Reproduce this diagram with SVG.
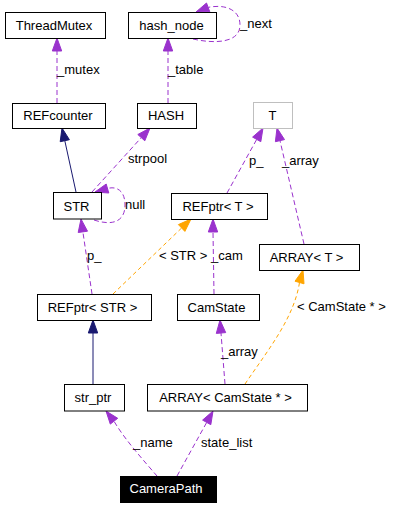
<svg xmlns="http://www.w3.org/2000/svg" width="404" height="507" viewBox="0 0 404 507">
<style>
  text { font-family: "Liberation Sans", Arial, sans-serif; font-size: 13px; fill: #000; }
  .n rect { fill: #fff; stroke: #000; stroke-width: 1; }
  .n text { text-anchor: middle; }
  .ghost rect { stroke: #bfbfbf; }
  .cur rect { fill: #000; }
  .cur text { fill: #fff; }
  .e { fill: none; stroke-width: 1; }
  .p { stroke: #9a32cd; stroke-dasharray: 5,3; }
  .o { stroke: #ffa500; stroke-dasharray: 4,3; }
  .b { stroke: #191970; }
  .pa { fill: #9a32cd; stroke: #9a32cd; }
  .oa { fill: #ffa500; stroke: #ffa500; }
  .ba { fill: #191970; stroke: #191970; }
</style>
<rect width="404" height="507" fill="#fff"/>
<g id="connectors">
  <path class="e p" d="M57,103 L57,51"/>
  <polygon class="pa" points="57,38 52.3,51 61.7,51"/>
  <text x="57" y="74">_mutex</text>

  <path class="e p" d="M168,103 L168,51"/>
  <polygon class="pa" points="168,38 163.3,51 172.7,51"/>
  <text x="168" y="74">_table</text>

  <path class="e p" d="M193,39 C215,44 240,43 240,25 C240,9 224,4 208.2,7.4"/>
  <polygon class="pa" points="196,12 209.8,11.8 206.5,3"/>
  <text x="240" y="28">_next</text>

  <path class="e b" d="M76,192 L64.8,140.7"/>
  <polygon class="ba" points="62,128 69.4,139.7 60.2,141.7"/>

  <path class="e p" d="M92,192 L141.3,137.6"/>
  <polygon class="pa" points="150,128 144.8,140.8 137.8,134.5"/>
  <text x="128" y="163">strpool</text>

  <path class="e p" d="M94,220 C112,226 125,222 125,205 C125,190 116,186 107.5,188.5"/>
  <polygon class="pa" points="95,192 108.8,193 106.2,184"/>
  <text x="125" y="209">null</text>

  <path class="e p" d="M227,193 L256.7,139.4"/>
  <polygon class="pa" points="263,128 260.8,141.7 252.6,137.1"/>
  <text x="249" y="165">p_</text>

  <path class="e p" d="M304,244 L280,140.7"/>
  <polygon class="pa" points="277,128 284.5,139.6 275.4,141.7"/>
  <text x="282" y="165">_array</text>

  <path class="e p" d="M92,294 L82.9,231.9"/>
  <polygon class="pa" points="81,219 87.5,231.2 78.2,232.5"/>
  <text x="87" y="260">p_</text>

  <path class="e o" d="M113,294 L181.6,228"/>
  <polygon class="oa" points="191,219 184.9,231.4 178.4,224.6"/>
  <text x="159" y="260">&lt; STR &gt;</text>

  <path class="e p" d="M214,294 L213,232"/>
  <polygon class="pa" points="213,219 208.3,232 217.7,232"/>
  <text x="211" y="260">_cam</text>

  <path class="e o" d="M245,384 C268,350 294,318 299.5,282.5"/>
  <polygon class="oa" points="303,270 304,283.8 295,281.2"/>
  <text x="297" y="311">&lt; CamState * &gt;</text>

  <path class="e b" d="M93,384 L93,333"/>
  <polygon class="ba" points="93,320 88.3,333 97.7,333"/>

  <path class="e p" d="M225,384 L221,333"/>
  <polygon class="pa" points="220,320 225.7,332.6 216.3,333.4"/>
  <text x="221" y="356">_array</text>

  <path class="e p" d="M157,476 C145,462 125,440 114,421.2"/>
  <polygon class="pa" points="106,411 117.7,418.3 110.3,424.1"/>
  <text x="133" y="447">_name</text>

  <path class="e p" d="M177,476 L206.7,422.4"/>
  <polygon class="pa" points="213,411 210.8,424.7 202.6,420.1"/>
  <text x="201" y="447">state_list</text>
</g>
<g id="ThreadMutex" class="n"><rect x="5.5" y="12.5" width="100" height="26"/><text x="54" y="29.5">ThreadMutex</text></g>
<g id="hash_node" class="n"><rect x="128.5" y="12.5" width="88" height="26"/><text x="171.5" y="29.5">hash_node</text></g>
<g id="REFcounter" class="n"><rect x="12.5" y="103.5" width="93" height="25"/><text x="58" y="119.5">REFcounter</text></g>
<g id="HASH" class="n"><rect x="137.5" y="103.5" width="59" height="25"/><text x="166" y="119.5">HASH</text></g>
<g id="T" class="n ghost"><rect x="253.5" y="102.5" width="39" height="26"/><text x="272.5" y="119.5">T</text></g>
<g id="STR" class="n"><rect x="53.5" y="192.5" width="48" height="26.5"/><text x="76.5" y="210.5">STR</text></g>
<g id="REFptr_T" class="n"><rect x="171.5" y="193.5" width="96" height="26"/><text x="218" y="210.5">REFptr&lt; T &gt;</text></g>
<g id="ARRAY_T" class="n"><rect x="259.5" y="244.5" width="100" height="26"/><text x="306.5" y="261.5">ARRAY&lt; T &gt;</text></g>
<g id="CamState" class="n"><rect x="177.5" y="294.5" width="82" height="26"/><text x="216.5" y="311.5">CamState</text></g>
<g id="REFptr_STR" class="n"><rect x="37.5" y="294.5" width="114" height="26"/><text x="92.5" y="311.5">REFptr&lt; STR &gt;</text></g>
<g id="str_ptr" class="n"><rect x="64.5" y="384.5" width="60" height="26.5"/><text x="93" y="402">str_ptr</text></g>
<g id="ARRAY_CamState" class="n"><rect x="147.5" y="384.5" width="160" height="26.5"/><text x="225.5" y="402">ARRAY&lt; CamState * &gt;</text></g>
<g id="CameraPath" class="n cur"><rect x="120.5" y="476.5" width="96" height="26"/><text x="166" y="492.5">CameraPath</text></g>
</svg>
